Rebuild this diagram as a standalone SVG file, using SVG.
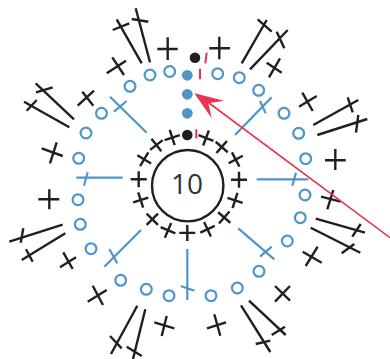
<svg xmlns="http://www.w3.org/2000/svg" width="390" height="359" viewBox="0 0 390 359">
<style>
.k{stroke:#231f20;stroke-width:2.4;fill:none}
.b{stroke:#4f95c9;stroke-width:2.2;fill:none}
.o{stroke:#4f95c9;stroke-width:2.2;fill:#fff}
.r{stroke:#e8334f;stroke-width:2;fill:none}
.bd{fill:#4f95c9}
.kd{fill:#231f20}
</style>
<defs>
<path id="x" class="k" d="M-8 0H8M0-8V8"/>
</defs>
<rect width="390" height="359" fill="#fff"/>
<g id="center">
<circle cx="187.7" cy="185.7" r="35.7" fill="#fff" stroke="#231f20" stroke-width="2.4"/>
<text x="187" y="194" font-family="'Open Sans',sans-serif" font-size="28" fill="#333335" text-anchor="middle">10</text>
</g>
<g id="inner-stitches">
<use href="#x" transform="translate(206 138) rotate(-69)"/>
<use href="#x" transform="translate(221.7 147) rotate(-49)"/>
<use href="#x" transform="translate(235.7 159.5) rotate(-28)"/>
<use href="#x" transform="translate(239 179.7)"/>
<use href="#x" transform="translate(235 200.4) rotate(18)"/>
<use href="#x" transform="translate(224.2 217.5) rotate(41)"/>
<use href="#x" transform="translate(207.5 229.2) rotate(65)"/>
<use href="#x" transform="translate(187.3 232.9)"/>
<use href="#x" transform="translate(168 230.3) rotate(23)"/>
<use href="#x" transform="translate(152.3 219.2) rotate(45)"/>
<use href="#x" transform="translate(140.7 200) rotate(-18)"/>
<use href="#x" transform="translate(138.7 179.3)"/>
<use href="#x" transform="translate(144.2 159.3) rotate(31)"/>
<use href="#x" transform="translate(156.4 145) rotate(52)"/>
<use href="#x" transform="translate(172.2 137.6) rotate(72)"/>
</g>
<g id="spokes" class="b">
<path d="M110 96.7L146.7 132.7M114 111.7L126.7 101"/>
<path d="M235 135L271.7 97.3M260 101L265.7 113.3"/>
<path d="M256.7 179.3H308.3M296 172.7L292.3 185.7"/>
<path d="M238.3 228.3L274.3 259.3M260 256.7L271.7 246.7"/>
<path d="M187.3 249V300M180.7 286L194.5 290.7"/>
<path d="M141 230L104.3 266.7M109.3 249L117.3 263.3"/>
<path d="M76.3 177.7H122.7M87.7 172.3L84 185.7"/>
</g>
<g id="rings" class="o">
<circle cx="169.7" cy="71.5" r="5.4"/>
<circle cx="150" cy="75" r="5.4"/>
<circle cx="130" cy="86.3" r="5.4"/>
<circle cx="101.5" cy="113.3" r="5.4"/>
<circle cx="86" cy="133" r="5.4"/>
<circle cx="78.7" cy="158.3" r="5.4"/>
<circle cx="78" cy="199.7" r="5.4"/>
<circle cx="80.3" cy="224.3" r="5.4"/>
<circle cx="91" cy="248.7" r="5.4"/>
<circle cx="120.7" cy="280.3" r="5.4"/>
<circle cx="146.3" cy="289.3" r="5.4"/>
<circle cx="169" cy="295.7" r="5.4"/>
<circle cx="211" cy="295.7" r="5.4"/>
<circle cx="237.3" cy="288" r="5.4"/>
<circle cx="259" cy="271.3" r="5.4"/>
<circle cx="287.3" cy="241" r="5.4"/>
<circle cx="300.3" cy="217.7" r="5.4"/>
<circle cx="305" cy="195" r="5.4"/>
<circle cx="305.7" cy="158.7" r="5.4"/>
<circle cx="298.7" cy="133.3" r="5.4"/>
<circle cx="284" cy="113.3" r="5.4"/>
<circle cx="258.7" cy="90.3" r="5.4"/>
<circle cx="239.3" cy="77.7" r="5.4"/>
<circle cx="217.7" cy="73.7" r="5.4"/>
</g>
<g id="outer-stitches" class="k">
<path d="M157.3 49H177.7M167.7 37.3V60"/>
<path d="M209.3 48.3H230M219.3 36.7V59.3"/>
<path d="M106.7 73.3L126 60.7M112.3 57.3L124 75"/>
<path d="M141.7 63.3L116.7 19.3M112.7 30L129.3 23.3"/>
<path d="M150 62.3L135.7 8.3M131.7 19L148.3 21.7"/>
<path d="M77.7 105.7L94 90.7M82.3 91.7L93.3 105.7"/>
<path d="M74 119.3L35.7 83.3M36 92.3L52.7 87.3"/>
<path d="M69.3 127.3L24 101.7M26.7 110.7L36.7 100"/>
<path d="M41.7 148.3L62.7 156M56.7 142.3L50 163.3"/>
<path d="M38.3 199.3H59.3M49.3 189.3V209.3"/>
<path d="M62.7 224.7L9.3 241.7M23.3 228.3L20.7 242.7"/>
<path d="M65.3 233.3L21.7 260M26 249.3L32.7 261.7"/>
<path d="M60 267.3L76 257.3M63.3 252.3L72.7 269"/>
<path d="M87.7 301.7L106.7 290M92.7 285.7L103 305"/>
<path d="M137.3 305.7L111 354M110 336L121.7 348.3"/>
<path d="M145.3 309.3L133 359M126.7 346.7L141.7 356"/>
<path d="M154.3 322.3L174.3 328.3M166.7 316L161.7 336"/>
<path d="M207 328.3L226 322.3M214.3 314.3L220.3 335.7"/>
<path d="M241 305.3L270.3 352M255.7 344L270.3 340.7"/>
<path d="M249 300.7L285.7 335M271.7 335L285 326.7"/>
<path d="M275 301.7L290 286M275 286L290 300.7"/>
<path d="M305.7 266L317.7 246.7M302.7 251.7L321.7 262.7"/>
<path d="M310.7 227.7L360.3 252.7M341.7 253.3L354.3 244"/>
<path d="M315.7 218.7L365 232.7M360.7 224L352.3 236.7"/>
<path d="M321 196.7L340.7 201.7M333.3 190L327.3 209.3"/>
<path d="M325 160.3H345.7M335.3 149V170"/>
<path d="M317.3 135L367.3 119M358.3 115L356 132.7"/>
<path d="M313.3 125L358.3 100M347.7 97.3L352.7 112.3"/>
<path d="M299 106.7L316.7 96M302.3 92.7L312.7 111"/>
<path d="M266.7 62.7L281.7 72.7M280 58.3L269 77.3"/>
<path d="M250 69.3L287.7 30M276.7 31.7L284.3 48.3"/>
<path d="M241.7 63.3L266.7 20M257.7 19.3L271.7 31.7"/>
</g>
<g id="dots">
<circle class="kd" cx="195" cy="57.7" r="5.3"/>
<circle class="bd" cx="187.3" cy="75.3" r="5.4"/>
<circle class="bd" cx="187.3" cy="94.3" r="5.4"/>
<circle class="bd" cx="187.3" cy="113.3" r="5.4"/>
<circle class="kd" cx="187.3" cy="135" r="5.3"/>
</g>
<g id="red-ticks" class="r">
<path d="M206.7 52.7L205.3 63.3"/>
<path d="M200 68.7V79.3"/>
<path d="M196.3 129.3V138.3"/>
</g>
<g id="connectors">
<path d="M209 103L390 237.7" fill="none" stroke="#e8334f" stroke-width="1.6"/>
<path d="M194.3 93.3L224 100.7L208.3 103.3L211.7 118.3Z" fill="#e8334f"/>
</g>
</svg>
